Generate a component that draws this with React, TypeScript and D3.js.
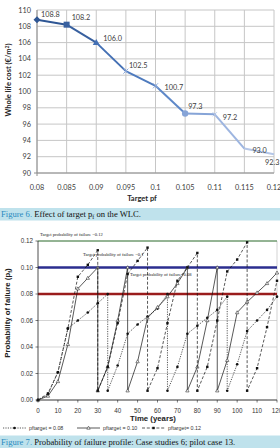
import React from 'react';
import * as d3 from 'd3';

// Figure 6: whole life cost vs target pf
const targetPf = [0.08, 0.085, 0.09, 0.095, 0.1, 0.105, 0.11, 0.115, 0.12];
const targetPfLabels = ['0.08', '0.085', '0.09', '0.095', '0.1', '0.105', '0.11', '0.115', '0.12'];
const wlc = [108.8, 108.2, 106.0, 102.5, 100.7, 97.3, 97.2, 93.0, 92.3];
const wlcTicks = [90, 92, 94, 96, 98, 100, 102, 104, 106, 108, 110];

// Figure 7: probability of failure profiles (year, pf), drops repeat the year
const pf08Years = [0, 5, 10, 15, 20, 25, 30, 35, 35, 40, 45, 50, 55, 60, 65, 65, 70, 75, 80, 85, 90, 95, 95, 100, 105, 110, 115, 120];
const pf08Values = [0, 0.004, 0.021, 0.054, 0.060, 0.066, 0.073, 0.080, 0.007, 0.026, 0.050, 0.057, 0.063, 0.069, 0.080, 0.007, 0.025, 0.050, 0.056, 0.062, 0.068, 0.078, 0.007, 0.027, 0.052, 0.060, 0.068, 0.078];

const pf10Years = [0, 5, 10, 15, 20, 25, 30, 30, 35, 40, 45, 45, 50, 55, 60, 65, 70, 75, 75, 80, 85, 90, 90, 95, 100, 105, 110, 115, 120];
const pf10Values = [0, 0.003, 0.014, 0.042, 0.084, 0.092, 0.100, 0.007, 0.025, 0.060, 0.100, 0.007, 0.029, 0.062, 0.070, 0.078, 0.088, 0.100, 0.007, 0.025, 0.060, 0.100, 0.007, 0.030, 0.066, 0.074, 0.081, 0.088, 0.096];

const pf12Years = [0, 5, 10, 15, 20, 25, 30, 30, 35, 40, 45, 50, 55, 55, 60, 65, 70, 75, 80, 80, 85, 90, 95, 100, 105, 105, 110, 115, 120];
const pf12Values = [0, 0.005, 0.021, 0.054, 0.093, 0.102, 0.113, 0.007, 0.025, 0.058, 0.095, 0.105, 0.115, 0.007, 0.024, 0.058, 0.090, 0.100, 0.111, 0.007, 0.025, 0.060, 0.097, 0.106, 0.119, 0.007, 0.024, 0.055, 0.090];

const timeTicks = [0, 10, 20, 30, 40, 50, 60, 70, 80, 90, 100, 110, 120];
const pfTicks = [0, 0.02, 0.04, 0.06, 0.08, 0.1, 0.12];
const targets = [0.12, 0.1, 0.08];
const targetLabels = ['Target probability of failure =0.12', 'Target probability of failure =0.1', 'Target probability of failure=0.08'];
const legendLabels = ['pftarget = 0.08', 'pftarget = 0.10', 'pftarget= 0.12'];

const segColors = ['#2e5694', '#38609f', '#4470b4', '#4f7bbe', '#5e88c8', '#86a4d7', '#9db5e0', '#b4c6e7'];
const labelOffsets: [number, number][] = [[4, -3], [5, -5], [7, -2], [3, -3], [9, 4], [3, -5], [8, 6], [8, 4], [-9, 11]];

const sans = 'Lato, "Liberation Sans", sans-serif';
const arial = '"Liberation Sans", Arial, sans-serif';
const serif = '"Liberation Serif", "Times New Roman", serif';

function TopChart() {
  const x = d3.scaleLinear().domain([0.08, 0.12]).range([37, 274]);
  const y = d3.scaleLinear().domain([90, 110]).range([173, 10]);
  const pts = targetPf.map((p, i) => [x(p), y(wlc[i])] as [number, number]);

  const marker = (i: number) => {
    const [cx, cy] = pts[i];
    const c = segColors[Math.min(i, segColors.length - 1)];
    switch (i) {
      case 0:
        return <path key={i} d={`M${cx},${cy - 3.5}L${cx + 3.5},${cy}L${cx},${cy + 3.5}L${cx - 3.5},${cy}Z`} fill={c} />;
      case 1:
        return <rect key={i} x={cx - 3} y={cy - 3} width={6} height={6} fill={c} />;
      case 2:
        return <path key={i} d={`M${cx},${cy - 3.5}L${cx + 3.5},${cy + 2.5}L${cx - 3.5},${cy + 2.5}Z`} fill={c} />;
      case 3:
      case 4:
        return <path key={i} d={`M${cx - 2.5},${cy - 2.5}L${cx + 2.5},${cy + 2.5}M${cx - 2.5},${cy + 2.5}L${cx + 2.5},${cy - 2.5}`} stroke="#8eaadb" strokeWidth={1} />;
      case 5:
        return <circle key={i} cx={cx} cy={cy} r={3.2} fill={c} />;
      case 6:
        return <path key={i} d={`M${cx - 2},${cy - 2}L${cx + 2},${cy + 2}M${cx - 2},${cy + 2}L${cx + 2},${cy - 2}`} stroke="#b4c6e7" strokeWidth={1} />;
      default:
        return null;
    }
  };

  return (
    <g>
      {wlcTicks.map(t => (
        <line key={'h' + t} x1={37} x2={274} y1={y(t)} y2={y(t)} stroke="#c6c6c6" strokeWidth={1} />
      ))}
      {targetPf.map(p => (
        <line key={'v' + p} x1={x(p)} x2={x(p)} y1={10} y2={173} stroke="#c6c6c6" strokeWidth={1} />
      ))}
      <line x1={37} x2={37} y1={10} y2={176} stroke="#8c8c8c" />
      <line x1={34} x2={274} y1={173} y2={173} stroke="#8c8c8c" />
      {wlcTicks.map(t => (
        <text key={'yl' + t} x={31} y={y(t) + 2.5} textAnchor="end" fontSize={7.3} fill="#404040" fontFamily={sans}>{t}</text>
      ))}
      {targetPf.map((p, i) => (
        <text key={'xl' + p} x={x(p)} y={190} textAnchor="middle" fontSize={7.3} fill="#404040" fontFamily={sans}>{targetPfLabels[i]}</text>
      ))}
      {pts.slice(1).map((p, i) => (
        <line key={'s' + i} x1={pts[i][0]} y1={pts[i][1]} x2={p[0]} y2={p[1]} stroke={segColors[i]} strokeWidth={2} />
      ))}
      {pts.map((_, i) => marker(i))}
      {pts.map((p, i) => (
        <text key={'dl' + i} x={p[0] + labelOffsets[i][0]} y={p[1] + labelOffsets[i][1]} fontSize={7.3} fill="#404040" fontFamily={sans}>{wlc[i].toFixed(1)}</text>
      ))}
      <text transform="translate(11,80) rotate(-90)" textAnchor="middle" fontSize={7.5} fontWeight="bold" fill="#262626" fontFamily={sans}>
        Whole life cost (€/m<tspan dy={-2.5} fontSize={5}>2</tspan><tspan dy={2.5}>)</tspan>
      </text>
      <text x={142} y={201} textAnchor="middle" fontSize={7.5} fontWeight="bold" fill="#262626" fontFamily={sans}>Target pf</text>
    </g>
  );
}

function BottomChart() {
  const x = d3.scaleLinear().domain([0, 120]).range([38, 277]);
  const y = d3.scaleLinear().domain([0, 0.12]).range([400, 241]);
  const line = d3.line<[number, number]>().x(d => x(d[0])).y(d => y(d[1]));
  const series = [
    { years: pf08Years, values: pf08Values, dash: '1.2,1.2', kind: 'circle' },
    { years: pf10Years, values: pf10Values, dash: undefined, kind: 'triangle' },
    { years: pf12Years, values: pf12Values, dash: '3,1.8', kind: 'square' },
  ];
  const targetColors = ['#3f7f3f', '#2b2e8f', '#9a1c1c'];
  const targetWidths = [1, 2.6, 2.6];
  const labelPos: [number, number][] = [[40, 236], [83, 256], [130, 276]];

  const drawMarker = (kind: string, cx: number, cy: number, key: string) => {
    if (kind === 'circle') return <circle key={key} cx={cx} cy={cy} r={1.3} fill="#111" />;
    if (kind === 'square') return <rect key={key} x={cx - 1.2} y={cy - 1.2} width={2.4} height={2.4} fill="#111" />;
    return <path key={key} d={`M${cx},${cy - 1.8}L${cx + 1.7},${cy + 1.2}L${cx - 1.7},${cy + 1.2}Z`} fill="#fff" stroke="#333" strokeWidth={0.6} />;
  };

  const legendX = [3, 77, 142];
  const legendY = 428;

  return (
    <g>
      {pfTicks.map(t => (
        <line key={'g' + t} x1={38} x2={277} y1={y(t)} y2={y(t)} stroke="#c8c8c8" strokeWidth={0.8} />
      ))}
      <line x1={277} x2={277} y1={241} y2={400} stroke="#c8c8c8" strokeWidth={0.8} />
      {targets.map((t, i) => (
        <line key={'t' + t} x1={38} x2={277} y1={y(t)} y2={y(t)} stroke={targetColors[i]} strokeWidth={targetWidths[i]} />
      ))}
      {targetLabels.map((s, i) => (
        <text key={'tl' + i} x={labelPos[i][0]} y={labelPos[i][1]} fontSize={4.6} fill="#222" fontFamily={serif}>{s}</text>
      ))}
      {series.map((s, si) => {
        const pts = s.years.map((yr, i) => [yr, s.values[i]] as [number, number]);
        return (
          <g key={'s' + si}>
            <path d={line(pts) || ''} fill="none" stroke="#111" strokeWidth={0.7} strokeDasharray={s.dash} />
            {pts.map((p, i) => drawMarker(s.kind, x(p[0]), y(p[1]), si + '-' + i))}
          </g>
        );
      })}
      <line x1={38} x2={38} y1={241} y2={400} stroke="#222" strokeWidth={0.8} />
      <line x1={38} x2={277} y1={400} y2={400} stroke="#222" strokeWidth={0.8} />
      {timeTicks.map(t => (
        <g key={'xt' + t}>
          <line x1={x(t)} x2={x(t)} y1={400} y2={402.5} stroke="#222" strokeWidth={0.6} />
          <text x={x(t)} y={412.5} textAnchor="middle" fontSize={6.3} fill="#333" fontFamily={arial}>{t}</text>
        </g>
      ))}
      {pfTicks.map(t => (
        <g key={'yt' + t}>
          <line x1={35.5} x2={38} y1={y(t)} y2={y(t)} stroke="#222" strokeWidth={0.6} />
          <text x={33} y={y(t) + 2.2} textAnchor="end" fontSize={6.3} fill="#333" fontFamily={arial}>{t.toFixed(2)}</text>
        </g>
      ))}
      <text transform="translate(10,313) rotate(-90)" textAnchor="middle" fontSize={7.8} fontWeight="bold" fill="#222" fontFamily={arial}>
        Probability of failure (p<tspan dy={1.5} fontSize={5.5}>f</tspan><tspan dy={-1.5}>)</tspan>
      </text>
      <text x={153} y={421} textAnchor="middle" fontSize={7.8} fontWeight="bold" fill="#222" fontFamily={arial}>Time (years)</text>
      {series.map((s, i) => (
        <g key={'lg' + i}>
          <line x1={legendX[i]} x2={legendX[i] + 23} y1={legendY} y2={legendY} stroke="#111" strokeWidth={0.7} strokeDasharray={s.dash} />
          {drawMarker(s.kind, legendX[i] + 11.5, legendY, 'lm' + i)}
          <text x={legendX[i] + 26} y={legendY + 1.9} fontSize={5.3} fill="#333" fontFamily={arial}>{legendLabels[i]}</text>
        </g>
      ))}
    </g>
  );
}

function Caption({ y, num, text }: { y: number; num: string; text: React.ReactNode }) {
  return (
    <g>
      <rect x={0} y={y} width={280} height={12.5} fill="#bfe2ec" />
      <text x={1} y={y + 9.3} fontSize={8.6} fontFamily={serif} fill="#111">
        <tspan fill="#2a8bbf">{num}</tspan> {text}
      </text>
    </g>
  );
}

export default function App() {
  return (
    <svg width={280} height={448} style={{ position: 'absolute', left: 0, top: 0, background: '#fff' }}>
      <rect width={280} height={448} fill="#fff" />
      <TopChart />
      <Caption y={208} num="Figure 6." text={<>Effect of target p<tspan dy={1.5} fontSize={6}>f</tspan><tspan dy={-1.5}> on the WLC.</tspan></>} />
      <BottomChart />
      <Caption y={435.5} num="Figure 7." text="Probability of failure profile: Case studies 6; pilot case 13." />
    </svg>
  );
}
